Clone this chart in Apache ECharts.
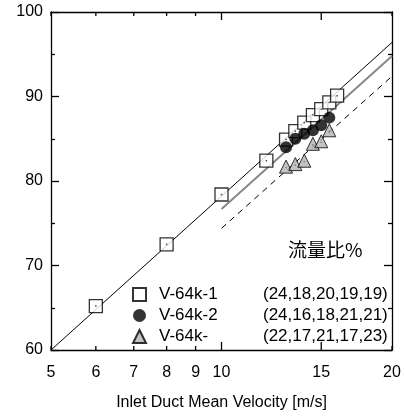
<!DOCTYPE html>
<html><head><meta charset="utf-8">
<script src="https://cdn.jsdelivr.net/npm/echarts@6/dist/echarts.min.js"></script>
<style>html,body{margin:0;padding:0;background:#fff}#c{width:405px;height:416px}</style>
</head><body><div id="c"></div>
<script>
// ---- data ----
const seriesNames = ['V-64k-1', 'V-64k-2', 'V-64k-'];
const flowRatios = ['(24,18,20,19,19)', '(24,16,18,21,21)', '(22,17,21,17,23)'];
const sqX = [6, 8, 10, 12, 13, 13.5, 14, 14.5, 15, 15.5, 16];
const sqY = [65.2, 72.5, 78.4, 82.4, 84.9, 85.9, 86.9, 87.8, 88.5, 89.3, 90.1];
const ciX = [13, 13.5, 14, 14.5, 15, 15.5];
const ciY = [84.0, 85.0, 85.6, 86.0, 86.6, 87.5];
const trX = [13, 13.5, 14, 14.5, 15, 15.5];
const trY = [81.7, 82.0, 82.4, 84.4, 84.7, 86.0];
const blackLine = [[5, 60], [20, 96.4]];
const grayLine = [[10, 76.7], [20, 94.8]];
const dashLine = [[10, 74.4], [20, 92.4]];
const xTicks = [5, 6, 7, 8, 9, 10, 15, 20];
const xMajor = [10, 15];
const annotation = '流量比%';
const xName = 'Inlet Duct Mean Velocity [m/s]';

const zip = (a, b) => a.map((v, i) => [v, b[i]]);
const FONT = 'Liberation Sans, Arial, sans-serif';
const chart = echarts.init(document.getElementById('c'), null, {renderer: 'canvas'});

const yAxisBase = {
  type: 'value', min: 60, max: 100, interval: 10,
  axisLine: {show: true, lineStyle: {color: '#000', width: 1.3}},
  axisTick: {show: true, inside: true, length: 8, lineStyle: {color: '#000', width: 1.3}},
  minorTick: {show: true, splitNumber: 2, length: 4, lineStyle: {color: '#000', width: 1.3}},
  splitLine: {show: false}
};
const xAxisBase = {
  type: 'log', logBase: 10, min: 5, max: 20,
  axisLine: {show: true, onZero: false, lineStyle: {color: '#000', width: 1.3}},
  axisTick: {show: false}, axisLabel: {show: false}, splitLine: {show: false}, minorTick: {show: false}
};

const option = {
  animation: false,
  backgroundColor: '#fff',
  grid: {left: 51, right: 13, top: 12, bottom: 65},
  xAxis: [
    Object.assign({}, xAxisBase, {position: 'bottom', name: xName, nameLocation: 'middle', nameGap: 45,
      nameTextStyle: {fontFamily: FONT, fontSize: 16, color: '#000'}}),
    Object.assign({}, xAxisBase, {position: 'top'})
  ],
  yAxis: [
    Object.assign({}, yAxisBase, {position: 'left',
      axisLabel: {show: true, margin: 8, fontFamily: FONT, fontSize: 16, color: '#000'}}),
    Object.assign({}, yAxisBase, {position: 'right', axisLabel: {show: false}})
  ],
  legend: {
    data: seriesNames, orient: 'vertical', left: 132, top: 286,
    itemWidth: 13, itemHeight: 13, itemGap: 4, padding: 0,
    textStyle: {fontFamily: FONT, fontSize: 17, color: '#000',
      rich: {a: {width: 104, padding: [0, 0, 0, 8], fontFamily: FONT, fontSize: 17, color: '#000'},
             b: {fontFamily: FONT, fontSize: 17, color: '#000'}}},
    formatter: name => '{a|' + name + '}{b|' + flowRatios[seriesNames.indexOf(name)] + '}'
  },
  graphic: [{
    type: 'text', left: 288, top: 240,
    style: {text: annotation, font: '19px "Noto Sans CJK JP", sans-serif', fill: '#000'}
  }],
  series: [
    {type: 'line', data: blackLine, symbol: 'none', lineStyle: {color: '#000', width: 1}, z: 2},
    {type: 'line', data: grayLine, symbol: 'none', lineStyle: {color: '#888', width: 2}, z: 2},
    {type: 'line', data: dashLine, symbol: 'none', lineStyle: {color: '#000', width: 1, type: [6, 5]}, z: 2},
    {name: seriesNames[0], type: 'scatter', data: zip(sqX, sqY), symbol: 'rect', symbolSize: 13,
      itemStyle: {color: '#fff', borderColor: '#000', borderWidth: 1.3}, z: 3},
    {type: 'scatter', data: zip(sqX, sqY), symbol: 'rect', symbolSize: 1.5,
      itemStyle: {color: '#222'}, z: 4, silent: true},
    {name: seriesNames[1], type: 'scatter', data: zip(ciX, ciY), symbol: 'circle', symbolSize: 12,
      itemStyle: {color: '#000'}, z: 5},
    {name: seriesNames[2], type: 'scatter', data: zip(trX, trY), symbol: 'triangle', symbolSize: 13,
      itemStyle: {color: '#b4b4b4', borderColor: '#000', borderWidth: 1}, z: 5},
    {type: 'scatter', data: zip(trX, trY), symbol: 'rect', symbolSize: 1.2, symbolOffset: [0, 1],
      itemStyle: {color: '#555'}, z: 6, silent: true},
    {
      type: 'custom', clip: false, silent: true, z: 10,
      data: xTicks.map(v => [v, 60]),
      renderItem: (params, api) => {
        const v = api.value(0);
        const pb = api.coord([v, 60]);
        const pt = api.coord([v, 100]);
        const len = xMajor.indexOf(v) >= 0 ? 8 : 4;
        const ls = {stroke: '#000', lineWidth: 1.3};
        return {type: 'group', children: [
          {type: 'line', shape: {x1: pb[0], y1: pb[1], x2: pb[0], y2: pb[1] - len}, style: ls},
          {type: 'line', shape: {x1: pt[0], y1: pt[1], x2: pt[0], y2: pt[1] + len}, style: ls},
          {type: 'text', style: {text: String(v), x: pb[0], y: pb[1] + 15, align: 'center',
            verticalAlign: 'top', font: '16px ' + FONT, fill: '#000'}}
        ]};
      }
    }
  ]
};
chart.setOption(option);
</script></body></html>
